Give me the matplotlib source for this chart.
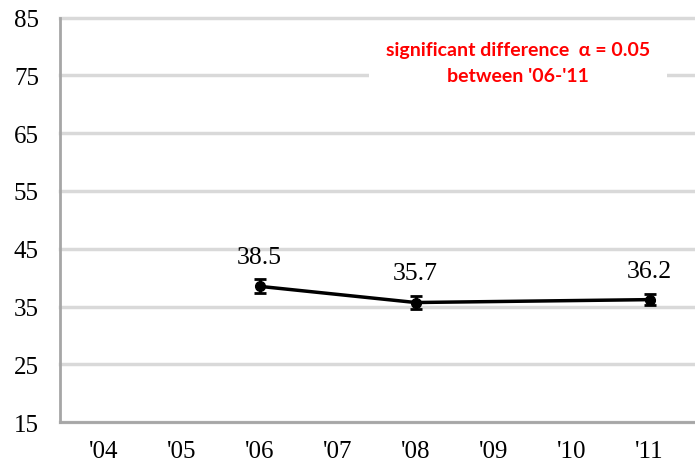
import matplotlib
matplotlib.use("Agg")
from matplotlib import pyplot as plt
import numpy as np

years = ["'04", "'05", "'06", "'07", "'08", "'09", "'10", "'11"]
point_idx = [2, 4, 7]
values = [38.5, 35.7, 36.2]
errors = [1.2, 1.2, 1.0]
labels = ["38.5", "35.7", "36.2"]

fig = plt.figure(figsize=(6.95, 4.64), dpi=100)
ax = fig.add_axes([0.086, 0.088, 0.914, 0.872])

ax.errorbar(point_idx, values, yerr=errors, color="black", lw=2.5,
            marker="o", ms=7, capsize=4, capthick=2, elinewidth=2, zorder=3)
for x, y, t in zip(point_idx, values, labels):
    ax.annotate(t, (x, y), xytext=(0, 13), textcoords="offset points",
                ha="center", va="bottom", fontsize=18.5, family="Liberation Serif")

ax.set_xlim(-0.56, 7.58)
ax.set_ylim(15, 85)
ax.set_yticks(np.arange(15, 86, 10))
ax.set_xticks(range(len(years)))
ax.set_xticklabels(years, family="Liberation Serif", fontsize=18)
ax.set_yticklabels([str(v) for v in np.arange(15, 86, 10)], family="Liberation Serif", fontsize=18)
ax.tick_params(length=0, pad=13)
ax.tick_params(axis="y", pad=15)
ax.grid(axis="y", color="#d9d9d9", lw=2.5, zorder=0)
for gl in ax.get_ygridlines():
    gl.set_clip_on(False)
ax.set_axisbelow(True)
for s in ["top", "right"]:
    ax.spines[s].set_visible(False)
for s in ["left", "bottom"]:
    ax.spines[s].set_color("#a6a6a6")
    ax.spines[s].set_linewidth(2)

ax.text(0.721, 0.889, "significant difference  \u03b1 = 0.05\nbetween '06-'11",
        transform=ax.transAxes, ha="center", va="center", color="red",
        fontsize=14, fontweight="bold", family="Lato", linespacing=1.65,
        bbox=dict(facecolor="white", edgecolor="none", pad=12))

plt.savefig("out.png", dpi=100)
